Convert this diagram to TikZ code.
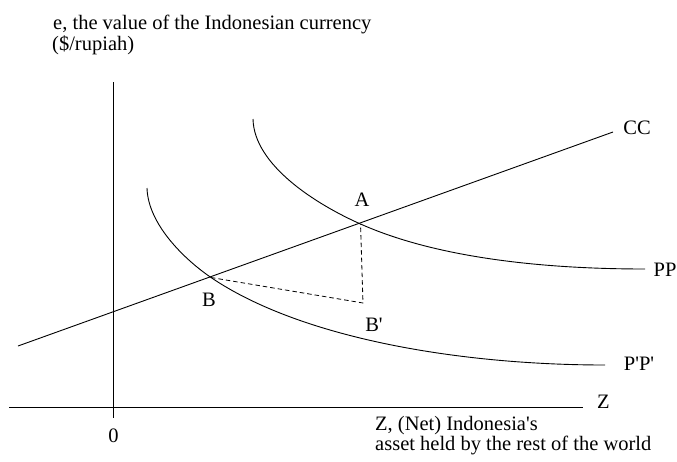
\documentclass[tikz,border=0pt]{standalone}
\usepackage{fontspec}
\setmainfont{Liberation Serif}
\begin{document}
\begin{tikzpicture}[x=1pt,y=-1pt,
  txt/.style={inner sep=0pt,font=\fontsize{20.5}{21}\selectfont},
  lbl/.style={txt,anchor=center},
  curve/.style={line width=0.9pt,line join=round},
  axis/.style={line width=0.9pt},
  guide/.style={line width=0.8pt,dashed,dash pattern=on 4.5pt off 3pt}]
\useasboundingbox (0,0) rectangle (677,461);
% axes
\coordinate (ytop) at (113.5,82);
\coordinate (ybot) at (113.5,418);
\coordinate (xl) at (9,407.7);
\coordinate (xr) at (583,407.7);
\draw[axis] (ytop) -- (ybot);
\draw[axis] (xl) -- (xr);
% points
\coordinate (A) at (360.5,224);
\coordinate (B) at (211,277.5);
\coordinate (Bp) at (363,303);
\coordinate (ccl) at (18,346);
\coordinate (ccr) at (613,132);
\coordinate (pps) at (253,119);
\coordinate (ppe) at (645,269);
\coordinate (qqs) at (147,188);
\coordinate (qqe) at (605,365);
% CC line
\draw[curve] (ccl) -- (ccr);
% PP curve
\draw[curve] (pps) .. controls (254,165) and (315.5,204) .. (A)
  .. controls (430,255) and (530,269) .. (ppe);
% P'P' curve
\draw[curve] (qqs) .. controls (148,225) and (186,260.5) .. (B)
  .. controls (301,338.5) and (460,365) .. (qqe);
% dashed guides
\draw[guide] (B) -- (Bp) -- (A);
% labels
\node[txt,anchor=base west] (title) at (53,29) {e, the value of the Indonesian currency};
\node[txt,anchor=base west] (title2) at (52,50) {(\$/rupiah)};
\node[txt,anchor=base west] (zl1) at (375,430) {Z, (Net) Indonesia\textquotesingle s};
\node[txt,anchor=base west] (zl2) at (375,450.5) {asset held by the rest of the world};
\node[lbl] (zero) at (113.5,436) {0};
\node[txt,anchor=base] (zlab) at (603.5,408) {Z};
\node[lbl] (cclab) at (637,128) {CC};
\node[lbl] (pplab) at (665,270) {PP};
\node[lbl] (pplab2) at (639,363.5) {P\textquotesingle P\textquotesingle};
\node[lbl] (alab) at (362,200) {A};
\node[lbl] (blab) at (209,300) {B};
\node[lbl] (bplab) at (374,324.5) {B\textquotesingle};
\end{tikzpicture}
\end{document}
